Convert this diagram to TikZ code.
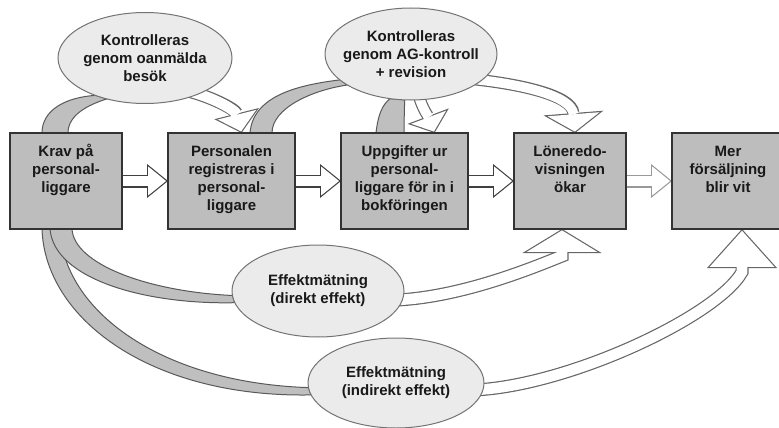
\documentclass[tikz,border=0pt]{standalone}
\usepackage{fontspec}
\setsansfont{Liberation Sans}
\usetikzlibrary{positioning, arrows.meta, shapes.geometric, calc}
\pgfdeclarelayer{background}
\pgfsetlayers{background,main}

% text of a box, set from the top
\newcommand{\toptext}[1]{\parbox[c][88pt][t]{104pt}{\centering\rule{0pt}{19pt}#1}}

% white block arrow with a thin outline
% #1 outline colour, #2 head length, #3 head width, #4 shaft width, #5 path
\newcommand{\blockarrow}[5][black!75]{%
    \pgfmathsetmacro{\tipback}{1.2/sin(atan(#3/(2*#2)))}%
    \pgfmathsetmacro{\innerlen}{#2-1.2-\tipback}%
    \pgfmathsetmacro{\innerwid}{#3*\innerlen/#2}%
    \pgfmathsetmacro{\innershaft}{#4-2.4}%
    \draw[draw=#1, line width=#4pt, -{Triangle[length=#2pt, width=#3pt, line width=0pt]}] #5;
    \draw[draw=white, line width=\innershaft pt, shorten >=\tipback pt, -{Triangle[length=\innerlen pt, width=\innerwid pt, line width=0pt]}] #5;
}

\begin{document}
\begin{tikzpicture}[
        x=1pt, y=1pt,
        node distance=46pt,
        box/.style={draw=black!80, line width=2pt, fill=gray!52, minimum height=96pt, inner sep=0pt, outer sep=0pt, text=black!90, font=\sffamily\bfseries\fontsize{15}{18}\selectfont},
        bubble/.style={draw=black!55, line width=1pt, fill=black!8, ellipse, inner xsep=-12pt, inner ysep=0pt, outer sep=0pt, align=center, text=black!90, font=\sffamily\bfseries\fontsize{15}{18}\selectfont},
        tail/.style={draw=black!65, line width=1pt, fill=gray!50}
    ]
    \useasboundingbox (0,0) rectangle (779,-428);

    \node[box, minimum width=112pt] (k1) at (66,-181) {\toptext{Krav på\\personal-\\liggare}};
    \node[box, minimum width=127pt, right=of k1] (k2) {\toptext{Personalen\\registreras i\\personal-\\liggare}};
    \node[box, minimum width=127pt, right=of k2] (k3) {\toptext{Uppgifter ur\\personal-\\liggare för in i\\bokföringen}};
    \node[box, minimum width=112pt, right=of k3] (k4) {\toptext{Löneredo-\\visningen\\ökar}};
    \node[box, minimum width=112pt, right=of k4] (k5) {\toptext{Mer\\försäljning\\blir vit}};

    \node[bubble, minimum width=174pt, minimum height=91pt] (e1) at (145,-58) {Kontrolleras\\genom oanmälda\\besök};
    \node[bubble, minimum width=172pt, minimum height=92pt] (e2) at (411,-54) {Kontrolleras\\genom AG-kontroll\\+ revision};
    \node[bubble, minimum width=172pt, minimum height=92pt] (e3) at (318,-291) {Effektmätning\\(direkt effekt)};
    \node[bubble, minimum width=176pt, minimum height=90pt] (e4) at (396,-383) {Effektmätning\\(indirekt effekt)};

    \begin{pgfonlayer}{background}
    % straight arrows between the boxes
    \blockarrow{21}{34}{13}{(k1.east) -- (k2.west)}
    \blockarrow{21}{34}{13}{(k2.east) -- (k3.west)}
    \blockarrow{21}{34}{13}{(k3.east) -- (k4.west)}
    \blockarrow[black!40]{21}{34}{13}{(k4.east) -- (k5.west)}

    % grey back parts, box to bubble
    \filldraw[tail] ([xshift=32pt]k1.north west) .. controls +(0,23) and +(-30,-2) .. (e1.217) -- (e1.227) .. controls +(-19,-6) and +(0,18) .. ([xshift=58pt]k1.north west) -- cycle;
    \filldraw[tail] ([xshift=82pt]k2.north west) .. controls +(3,38) and +(-40,-5) .. (e2.200) -- (e2.206) .. controls +(-35,-5) and +(0,25) .. ([xshift=104pt]k2.north west) -- cycle;
    \filldraw[tail] ([xshift=35pt]k3.north west) .. controls +(2,18) and +(-8,-6) .. (e2.245) -- (e2.262) .. controls +(0,-10) and +(0,14) .. ([xshift=63pt]k3.north west) -- cycle;
    \filldraw[tail] ([xshift=32pt]k1.south west) .. controls +(3,-90) and +(-160,-3) .. (e4.188) -- (e4.183) .. controls +(-150,5) and +(3,-80) .. ([xshift=50pt]k1.south west) -- cycle;
    \filldraw[tail] ([xshift=40pt]k1.south west) .. controls +(4,-50) and +(-90,-2) .. (e3.188) -- (e3.183) .. controls +(-85,4) and +(2,-35) .. ([xshift=62pt]k1.south west) -- cycle;

    % white heads, bubble to box
    \blockarrow[black!60]{20}{46}{13}{($(e1.center)!.75!(e1.315)$) .. controls +(30,-5) and +(-6,24) .. ([xshift=10pt]k2.north)}
    \blockarrow[black!60]{18}{44}{12}{($(e2.center)!.8!(e2.280)$) .. controls +(3,-15) and +(-6,16) .. ([xshift=30pt]k3.north)}
    \blockarrow[black!60]{20}{60}{12}{($(e2.center)!.8!(e2.335)$) .. controls +(55,-5) and +(-3,38) .. ([xshift=5pt]k4.north)}
    \blockarrow[black!60]{24}{79}{13}{($(e3.center)!.8!(e3.-8)$) .. controls +(70,0) and +(-30,-12) .. ([xshift=-8pt, yshift=-27pt]k4.south) -- ([xshift=-8pt]k4.south)}
    \blockarrow[black!60]{39}{70}{13}{($(e4.center)!.8!(e4.-6)$) .. controls +(95,0) and +(-25,-45) .. ([xshift=14pt, yshift=-43pt]k5.south) -- ([xshift=14pt]k5.south)}
    \end{pgfonlayer}
\end{tikzpicture}
\end{document}
